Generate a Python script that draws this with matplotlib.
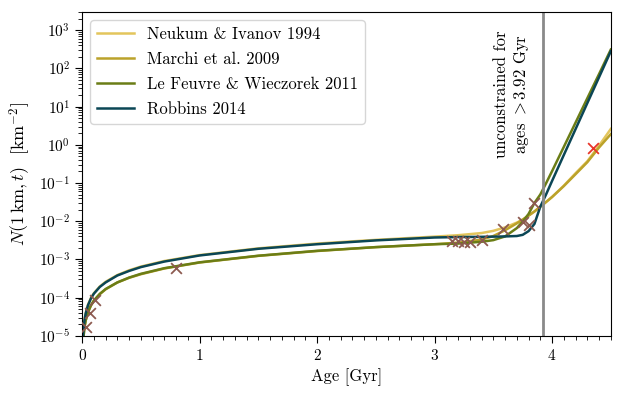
import matplotlib
matplotlib.use('Agg')
import matplotlib.pyplot as plt
from matplotlib.ticker import MultipleLocator, LogLocator

plt.rcParams['font.family'] = 'serif'
plt.rcParams['font.serif'] = ['cmr10']
plt.rcParams['mathtext.fontset'] = 'cm'
plt.rcParams['axes.formatter.use_mathtext'] = True
plt.rcParams['axes.unicode_minus'] = False

ages = [0.005, 0.01, 0.02, 0.03, 0.05, 0.075, 0.1, 0.15, 0.2, 0.3, 0.4, 0.5,
        0.7, 1.0, 1.5, 2.0, 2.5, 3.0, 3.2, 3.4, 3.5, 3.6, 3.7, 3.75, 3.8,
        3.85, 3.9, 3.95, 4.0, 4.1, 4.2, 4.3, 4.4, 4.5]

# N(1 km, t) [km^-2]
neukum = [6.5e-6, 1.3e-5, 2.6e-5, 3.9e-5, 6.5e-5, 9.8e-5, 1.3e-4, 1.95e-4,
          2.6e-4, 3.9e-4, 5.2e-4, 6.5e-4, 9.1e-4, 1.3e-3, 1.95e-3, 2.6e-3,
          3.25e-3, 3.95e-3, 4.3e-3, 4.9e-3, 5.6e-3, 6.9e-3, 9.2e-3, 1.1e-2,
          1.4e-2, 1.8e-2, 2.4e-2, 3.2e-2, 4.3e-2, 8.5e-2, 0.18, 0.37, 0.95, 2.6]
marchi = [4.1e-6, 8.2e-6, 1.65e-5, 2.5e-5, 4.1e-5, 6.2e-5, 8.2e-5, 1.23e-4,
          1.65e-4, 2.5e-4, 3.3e-4, 4.1e-4, 5.8e-4, 8.3e-4, 1.24e-3, 1.66e-3,
          2.1e-3, 2.5e-3, 2.75e-3, 3.3e-3, 4.1e-3, 5.8e-3, 8.8e-3, 1.1e-2,
          1.4e-2, 1.8e-2, 2.4e-2, 3.2e-2, 4.3e-2, 8.3e-2, 0.17, 0.35, 0.85, 1.9]
lefeuvre = [4.1e-6, 8.3e-6, 1.67e-5, 2.5e-5, 4.2e-5, 6.3e-5, 8.4e-5, 1.25e-4,
            1.68e-4, 2.5e-4, 3.35e-4, 4.2e-4, 5.9e-4, 8.4e-4, 1.25e-3, 1.68e-3,
            2.1e-3, 2.5e-3, 2.6e-3, 2.9e-3, 3.2e-3, 4.0e-3, 6.6e-3, 9.8e-3,
            1.55e-2, 3.0e-2, 5.0e-2, 0.1, 0.204, 0.88, 3.8, 16.5, 71, 310]
robbins = [6.3e-6, 1.27e-5, 2.5e-5, 3.8e-5, 6.3e-5, 9.5e-5, 1.27e-4, 1.9e-4,
           2.5e-4, 3.8e-4, 5.0e-4, 6.3e-4, 8.8e-4, 1.27e-3, 1.9e-3, 2.5e-3,
           3.15e-3, 3.75e-3, 3.85e-3, 3.9e-3, 3.95e-3, 4.0e-3, 4.1e-3, 4.4e-3,
           5.5e-3, 8.5e-3, 2.4e-2, 5.1e-2, 0.113, 0.54, 2.57, 12.3, 58.6, 280]

# calibration points
cal_age = [0.031, 0.065, 0.113, 0.80, 3.15, 3.20, 3.25, 3.30, 3.40, 3.58,
           3.75, 3.80, 3.85]
cal_n = [1.66e-5, 4.0e-5, 8.6e-5, 5.8e-4, 3.0e-3, 3.0e-3, 2.9e-3, 2.8e-3,
         3.2e-3, 6.1e-3, 9.6e-3, 8.2e-3, 3.0e-2]
extra_age = [4.35]
extra_n = [0.8]

fig = plt.figure(figsize=(6.22, 3.97), dpi=100)
ax = fig.add_axes([0.132, 0.154, 0.85, 0.816])

ax.plot(ages, neukum, color='#e3c55c', lw=1.8, label='Neukum & Ivanov 1994')
ax.plot(ages, marchi, color='#bba22a', lw=1.8, label='Marchi et al. 2009')
ax.plot(ages, lefeuvre, color='#6b7d16', lw=1.8, label='Le Feuvre & Wieczorek 2011')
ax.plot(ages, robbins, color='#0b4655', lw=1.8, label='Robbins 2014')

ax.scatter(cal_age, cal_n, marker='x', s=60, color='#8c5a50', lw=1.3, zorder=5)
ax.scatter(extra_age, extra_n, marker='x', s=60, color='#e8352a', lw=1.3, zorder=5)

ax.axvline(3.92, color='#8a8a8a', lw=2)
ax.text(3.66, 21, 'unconstrained for\nages ${>}$3.92 Gyr', rotation=90,
        ha='center', va='center', multialignment='center', fontsize=12)

ax.set_yscale('log')
ax.set_xlim(0, 4.5)
ax.set_ylim(1e-5, 3e3)
ax.xaxis.set_major_locator(MultipleLocator(1))
ax.xaxis.set_minor_locator(MultipleLocator(0.1))
ax.yaxis.set_major_locator(LogLocator(base=10, numticks=20))
ax.yaxis.set_minor_locator(LogLocator(base=10, subs=range(2, 10), numticks=20))
ax.tick_params(which='major', length=5, labelsize=11)
ax.tick_params(which='minor', length=3)

ax.set_xlabel('Age [Gyr]', fontsize=12)
ax.set_ylabel(r'$N(1\,\mathrm{km}, t)$  [km$^{-2}$]', fontsize=13)

ax.legend(loc='upper left', fontsize=12, framealpha=0.8, edgecolor='#cccccc',
          handlelength=2.2, labelspacing=0.58)

fig.savefig('out.png', dpi=100)
